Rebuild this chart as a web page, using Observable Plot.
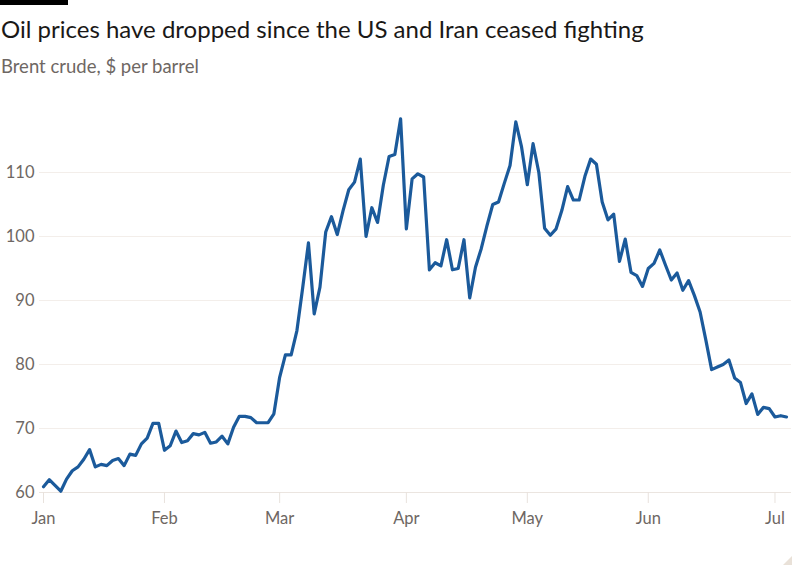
<!DOCTYPE html>
<html><head><meta charset="utf-8">
<script src="https://cdn.jsdelivr.net/npm/d3@7"></script>
<script src="https://cdn.jsdelivr.net/npm/@observablehq/plot@0.6"></script>
<style>
body{margin:0;background:#fff;width:800px;height:571px;overflow:hidden;position:relative;font-family:Lato,"Open Sans",sans-serif;}
#bar{position:absolute;left:0;top:0;width:68px;height:5px;background:#000;}
#title{position:absolute;left:1px;top:14px;font-size:24px;line-height:30px;color:#1a1817;white-space:nowrap;}
#sub{position:absolute;left:1px;top:55px;font-size:18.5px;line-height:22px;color:#6e6763;white-space:nowrap;}
#chart{position:absolute;left:0;top:90px;}
#corner{position:absolute;right:8px;bottom:6px;width:0;height:0;border-left:9px solid transparent;border-bottom:9px solid #e9e1d8;}
</style></head>
<body>
<div id="bar"></div>
<div id="title">Oil prices have dropped since the US and Iran ceased fighting</div>
<div id="sub">Brent crude, $ per barrel</div>
<div id="chart"></div>
<div id="corner"></div>
<script>
const dates = [
"2026-01-02","2026-01-05","2026-01-06","2026-01-07","2026-01-08","2026-01-09","2026-01-12","2026-01-13","2026-01-14","2026-01-15","2026-01-16","2026-01-19","2026-01-20","2026-01-21","2026-01-22","2026-01-23","2026-01-26","2026-01-27","2026-01-28","2026-01-29","2026-01-30",
"2026-02-02","2026-02-03","2026-02-04","2026-02-05","2026-02-06","2026-02-09","2026-02-10","2026-02-11","2026-02-12","2026-02-13","2026-02-16","2026-02-17","2026-02-18","2026-02-19","2026-02-20","2026-02-23","2026-02-24","2026-02-25","2026-02-26","2026-02-27",
"2026-03-02","2026-03-03","2026-03-04","2026-03-05","2026-03-06","2026-03-09","2026-03-10","2026-03-11","2026-03-12","2026-03-13","2026-03-16","2026-03-17","2026-03-18","2026-03-19","2026-03-20","2026-03-23","2026-03-24","2026-03-25","2026-03-26","2026-03-27","2026-03-30","2026-03-31",
"2026-04-01","2026-04-02","2026-04-06","2026-04-07","2026-04-08","2026-04-09","2026-04-10","2026-04-13","2026-04-14","2026-04-15","2026-04-16","2026-04-17","2026-04-20","2026-04-21","2026-04-22","2026-04-23","2026-04-24","2026-04-27","2026-04-28","2026-04-29","2026-04-30",
"2026-05-01","2026-05-04","2026-05-05","2026-05-06","2026-05-07","2026-05-08","2026-05-11","2026-05-12","2026-05-13","2026-05-14","2026-05-15","2026-05-18","2026-05-19","2026-05-20","2026-05-21","2026-05-22","2026-05-25","2026-05-26","2026-05-27","2026-05-28","2026-05-29",
"2026-06-01","2026-06-02","2026-06-03","2026-06-04","2026-06-05","2026-06-08","2026-06-09","2026-06-10","2026-06-11","2026-06-12","2026-06-15","2026-06-16","2026-06-17","2026-06-18","2026-06-19","2026-06-22","2026-06-23","2026-06-24","2026-06-25","2026-06-26","2026-06-29","2026-06-30",
"2026-07-01","2026-07-02","2026-07-03"
];
const prices = [
60.9,62.0,61.1,60.2,62.1,63.4,64.0,65.2,66.7,64.0,64.4,64.2,65.0,65.3,64.2,66.0,65.8,67.6,68.5,70.8,70.8,
66.6,67.3,69.6,67.8,68.1,69.2,69.0,69.4,67.7,67.9,68.8,67.6,70.2,71.9,71.9,71.7,70.9,70.9,70.9,72.3,
78.0,81.5,81.5,85.3,92.0,99.0,87.9,92.1,100.7,103.1,100.3,104.0,107.3,108.5,112.1,100.0,104.5,102.2,108.0,112.5,112.8,118.4,
101.2,109.0,109.8,109.3,94.8,95.9,95.4,99.5,94.8,95.0,99.5,90.4,95.2,98.1,101.7,105.0,105.4,108.3,111.1,117.9,114.0,
108.1,114.5,110.0,101.3,100.2,101.2,104.1,107.8,105.7,105.7,109.4,112.1,111.3,105.4,102.6,103.5,96.1,99.6,94.4,93.9,92.2,
95.0,95.8,97.9,95.5,93.2,94.3,91.6,93.1,90.8,88.2,83.8,79.2,79.6,80.0,80.7,77.9,77.2,73.9,75.4,72.2,73.3,73.1,
71.8,72.0,71.8
];
const yTicks = [60, 70, 80, 90, 100, 110];
const yDomain = [60, 120];

const parse = d3.utcParse("%Y-%m-%d");
const fmt = d3.utcFormat("%b");
const data = dates.map((d, i) => ({i, date: parse(d), price: prices[i]}));
const monthStarts = data.filter((d, k) => k === 0 || d.date.getUTCMonth() !== data[k - 1].date.getUTCMonth()).map(d => d.i);

const chart = Plot.plot({
  width: 800, height: 481,
  marginLeft: 39, marginRight: 9, marginTop: 18, marginBottom: 79,
  insetLeft: 4, insetRight: 5,
  x: {domain: [0, data.length - 1]},
  y: {domain: yDomain},
  style: {fontFamily: "Lato, 'Open Sans', sans-serif", fontSize: "16.5px", color: "#6e6763", background: "transparent", overflow: "visible"},
  marks: [
    Plot.ruleY(yTicks.slice(1), {stroke: "#f3eeea", strokeWidth: 1}),
    Plot.ruleY([yTicks[0]], {stroke: "#ebe5e0", strokeWidth: 1}),
    Plot.axisY({ticks: yTicks, tickSize: 0, tickPadding: 5, label: null, fill: "#6e6763"}),
    Plot.axisX({ticks: monthStarts, tickFormat: i => fmt(data[i].date), tickSize: 11, tickPadding: 9, label: null, stroke: "#e8e2dd", fill: "#6e6763"}),
    Plot.lineY(data, {x: "i", y: "price", stroke: "#1b5a9b", strokeWidth: 3.2, strokeLinejoin: "round", strokeLinecap: "round"})
  ]
});
document.getElementById("chart").appendChild(chart);
</script>
</body></html>
